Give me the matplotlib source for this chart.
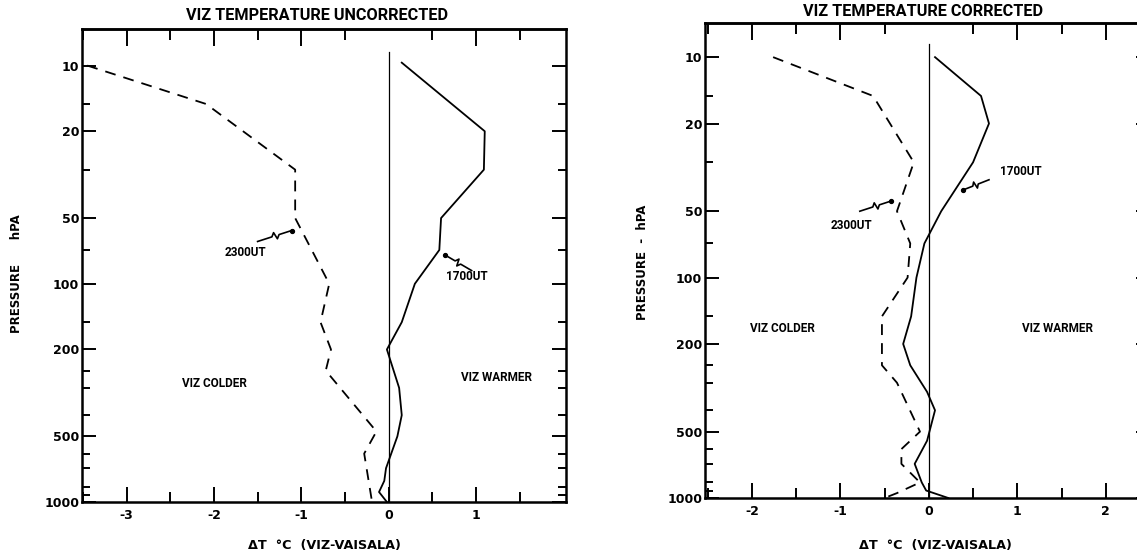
import matplotlib
matplotlib.use('Agg')
import matplotlib.pyplot as plt
import numpy as np
from matplotlib.ticker import FixedLocator, FuncFormatter, NullFormatter

plt.rcParams['font.family'] = ['DejaVu Sans']
plt.rcParams['font.weight'] = 'bold'
NARROW = ['Roboto', 'DejaVu Sans']

# ---------------- data ----------------
p_2300_unc = [10, 15, 30, 50, 100, 150, 200, 250, 475, 600, 1000]
dt_2300_unc = [-3.45, -2.09, -1.07, -1.07, -0.68, -0.78, -0.66, -0.72, -0.14, -0.28, -0.19]
p_1700_unc = [9.7, 20, 30, 50, 70, 100, 150, 200, 300, 400, 500, 700, 800, 900, 1000]
dt_1700_unc = [0.15, 1.10, 1.09, 0.60, 0.58, 0.30, 0.15, -0.02, 0.12, 0.15, 0.10, -0.03, -0.05, -0.11, -0.02]

p_2300_cor = [10, 15, 30, 50, 70, 100, 150, 250, 300, 500, 600, 700, 850, 950, 1000]
dt_2300_cor = [-1.76, -0.63, -0.17, -0.36, -0.21, -0.24, -0.53, -0.53, -0.36, -0.10, -0.31, -0.31, -0.10, -0.36, -0.50]
p_1700_cor = [10, 15, 20, 30, 50, 70, 100, 150, 200, 250, 330, 400, 550, 700, 850, 925, 1000]
dt_1700_cor = [0.07, 0.59, 0.68, 0.50, 0.14, -0.05, -0.14, -0.20, -0.29, -0.21, -0.02, 0.07, -0.02, -0.16, -0.08, -0.03, 0.22]

zero_line_p = [8.7, 1000]
major_p = [10, 20, 50, 100, 200, 500, 1000]
minor_p = [15, 30, 70, 150, 250, 300, 400, 600, 700, 850, 925]

titles = ["VIZ TEMPERATURE UNCORRECTED", "VIZ TEMPERATURE CORRECTED"]
ylabels = ["PRESSURE      hPA", "PRESSURE  -  hPA"]
xlabel = "\u0394T  \u00b0C  (VIZ-VAISALA)"

W, H = 1137, 559
fig = plt.figure(figsize=(W / 100, H / 100), dpi=100)
fig.patch.set_facecolor('white')


def px_axes(x0, y0, x1, y1):
    return fig.add_axes([x0 / W, 1 - y1 / H, (x1 - x0) / W, (y1 - y0) / H])


ax1 = px_axes(82, 29, 566, 502)
ax2 = px_axes(705, 23, 1150, 498)


def setup(ax, xlim, ytop, xmaj):
    ax.set_yscale('log')
    ax.set_xlim(*xlim)
    ax.set_ylim(1000, ytop)
    for s in ax.spines.values():
        s.set_linewidth(1.8)
    ax.yaxis.set_major_locator(FixedLocator(major_p))
    ax.yaxis.set_major_formatter(FuncFormatter(lambda v, pos: f"{int(round(v))}"))
    ax.yaxis.set_minor_locator(FixedLocator(minor_p))
    ax.yaxis.set_minor_formatter(NullFormatter())
    ax.tick_params(axis='y', which='both', direction='in', left=True, right=True)
    ax.tick_params(axis='y', which='major', length=10, width=1.4, labelsize=9, pad=2)
    ax.tick_params(axis='y', which='minor', length=6, width=1.4)
    xmin = [v + 0.5 for v in xmaj if xlim[0] < v + 0.5 < xlim[1]]
    xmin += [xmaj[0] - 0.5] if xmaj[0] - 0.5 > xlim[0] else []
    ax.xaxis.set_major_locator(FixedLocator(xmaj))
    ax.xaxis.set_major_formatter(FuncFormatter(lambda v, pos: f"{int(round(v))}"))
    ax.xaxis.set_minor_locator(FixedLocator(xmin))
    ax.tick_params(axis='x', which='both', direction='in', bottom=True, top=False)
    ax.tick_params(axis='x', which='major', length=11, width=1.4, labelsize=9, pad=5)
    ax.tick_params(axis='x', which='minor', length=7, width=1.4)
    sec = ax.secondary_xaxis('top')
    sec.xaxis.set_major_locator(FixedLocator([v for v in xmaj if v != 0]))
    sec.xaxis.set_minor_locator(FixedLocator(xmin))
    sec.tick_params(axis='x', which='both', direction='in', labeltop=False, width=1.4)
    sec.tick_params(axis='x', which='major', length=12)
    sec.tick_params(axis='x', which='minor', length=8)
    sec.spines['top'].set_linewidth(1.8)
    ax.plot([0, 0], zero_line_p, color='black', lw=0.9)


setup(ax1, (-3.51, 2.03), 6.8, [-3, -2, -1, 0, 1])
setup(ax2, (-2.53, 2.5), 7.0, [-2, -1, 0, 1, 2])

ax1.plot(dt_2300_unc, p_2300_unc, color='black', lw=1.3, ls=(0, (6, 4.5)))
ax1.plot(dt_1700_unc, p_1700_unc, color='black', lw=1.3)
ax2.plot(dt_2300_cor, p_2300_cor, color='black', lw=1.3, ls=(0, (6, 4.5)))
ax2.plot(dt_1700_cor, p_1700_cor, color='black', lw=1.3)


def squiggle(ax, tail, head):
    t = ax.transData.transform(tail)
    h = ax.transData.transform(head)
    d = h - t
    n = np.array([-d[1], d[0]]) / np.hypot(*d)
    amp = 3.5
    pts = [t, t + 0.42 * d, t + 0.5 * d + amp * n, t + 0.55 * d - amp * n, t + 0.63 * d, h]
    data = ax.transData.inverted().transform(np.array(pts))
    ax.plot(data[:, 0], data[:, 1], color='black', lw=1.2, clip_on=False)
    ax.plot([head[0]], [head[1]], 'o', color='black', ms=2.8, clip_on=False)


tk = dict(fontsize=8.5, fontweight='bold', ha='center', va='center', family=NARROW)
ax1.text(-1.64, 72, "2300UT", **tk)
squiggle(ax1, (-1.5, 64), (-1.11, 57))
ax1.text(0.89, 93, "1700UT", **tk)
squiggle(ax1, (0.95, 87), (0.65, 74))
ax1.text(-1.99, 287, "VIZ COLDER", **tk)
ax1.text(1.23, 270, "VIZ WARMER", **tk)

ax2.text(-0.88, 58, "2300UT", **tk)
squiggle(ax2, (-0.78, 50), (-0.43, 45))
ax2.text(1.04, 33, "1700UT", **tk)
squiggle(ax2, (0.68, 36), (0.39, 40))
ax2.text(-1.65, 170, "VIZ COLDER", **tk)
ax2.text(1.46, 171, "VIZ WARMER", **tk)

tt = dict(fontsize=11.7, fontweight='bold', ha='center', va='center', family=NARROW)
fig.text(317 / W, 1 - 16 / H, titles[0], **tt)
fig.text(923 / W, 1 - 12 / H, titles[1], **tt)
fig.text(17 / W, 1 - 274 / H, ylabels[0], fontsize=8.5, fontweight='bold', rotation=90, ha='center', va='center')
fig.text(642 / W, 1 - 262 / H, ylabels[1], fontsize=8.5, fontweight='bold', rotation=90, ha='center', va='center')
fig.text(324 / W, 1 - 546 / H, xlabel, fontsize=9.2, fontweight='bold', ha='center', va='center')
fig.text(935 / W, 1 - 546 / H, xlabel, fontsize=9.2, fontweight='bold', ha='center', va='center')

fig.savefig('out.png', dpi=100, facecolor='white')
